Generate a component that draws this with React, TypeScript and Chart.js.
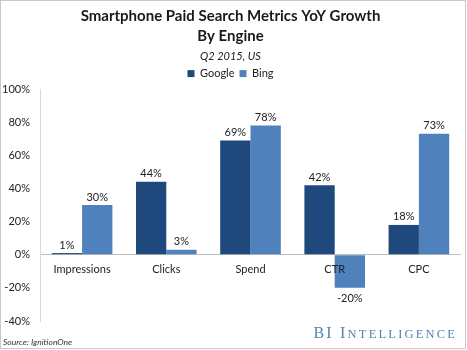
import React, { useEffect, useRef } from "react";
import { Chart, registerables } from "chart.js";

Chart.register(...registerables);

const categories = ["Impressions", "Clicks", "Spend", "CTR", "CPC"];
const googleValues = [1, 44, 69, 42, 18];
const bingValues = [30, 3, 78, -20, 73];
const seriesNames = ["Google", "Bing"];
const seriesColors = ["#1F497D", "#4F81BD"];
const yMin = -40;
const yMax = 100;
const yStep = 20;
const titleLines = ["Smartphone Paid Search Metrics YoY Growth", "By Engine"];
const subtitleText = "Q2 2015, US";
const sourceText = "Source: IgnitionOne";
const brandWords = ["BI", "Intelligence"];

const FONT = "Lato, 'Open Sans', sans-serif";
const SERIF = "'Liberation Serif', 'DejaVu Serif', serif";

const valueLabelPlugin = {
  id: "valueLabels",
  afterDatasetsDraw(chart: any) {
    const ctx = chart.ctx;
    ctx.save();
    ctx.font = `11px ${FONT}`;
    ctx.fillStyle = "#222";
    ctx.textAlign = "center";
    ctx.textBaseline = "middle";
    chart.data.datasets.forEach((ds: any, di: number) => {
      const meta = chart.getDatasetMeta(di);
      meta.data.forEach((el: any, i: number) => {
        const v = ds.data[i];
        const y = v >= 0 ? el.y - 8 : el.y + 11;
        ctx.fillText(v + "%", el.x, y);
      });
    });
    ctx.restore();
  },
};

const framePlugin = {
  id: "frame",
  afterDraw(chart: any) {
    const ctx = chart.ctx;
    const w = chart.width;
    const h = chart.height;
    ctx.save();
    ctx.strokeStyle = "#c9c9c9";
    ctx.lineWidth = 1;
    ctx.strokeRect(0.5, 0.5, w - 2, h - 2);

    ctx.font = `italic 8.5px ${FONT}`;
    ctx.fillStyle = "#333";
    ctx.textAlign = "left";
    ctx.textBaseline = "middle";
    ctx.fillText(sourceText, 3, 342);

    // brand drawn as small caps with letter spacing
    ctx.fillStyle = "#5683b2";
    ctx.textBaseline = "alphabetic";
    const big = `16px ${SERIF}`;
    const small = `12.5px ${SERIF}`;
    const spacing = 2.2;
    const chars: [string, string][] = [];
    brandWords.forEach((word, wi) => {
      const rest = word.slice(1);
      const restIsUpper = rest === rest.toUpperCase();
      chars.push([big, word[0]]);
      rest.split("").forEach((c) => chars.push([restIsUpper ? big : small, c.toUpperCase()]));
      if (wi < brandWords.length - 1) chars.push([big, " "]);
    });
    let total = 0;
    chars.forEach(([f, t], i) => {
      ctx.font = f;
      total += ctx.measureText(t).width + (i < chars.length - 1 ? spacing : 0);
    });
    let x = 455 - total;
    const baseline = 338;
    chars.forEach(([f, t]) => {
      ctx.font = f;
      ctx.fillText(t, x, baseline);
      x += ctx.measureText(t).width + spacing;
    });
    ctx.restore();
  },
};

export default function App() {
  const canvasRef = useRef<HTMLCanvasElement | null>(null);

  useEffect(() => {
    if (!canvasRef.current) return;
    const chart = new Chart(canvasRef.current, {
      type: "bar",
      data: {
        labels: categories,
        datasets: [
          {
            label: seriesNames[0],
            data: googleValues,
            backgroundColor: seriesColors[0],
            borderWidth: 0,
          },
          {
            label: seriesNames[1],
            data: bingValues,
            backgroundColor: seriesColors[1],
            borderWidth: 0,
          },
        ],
      },
      options: {
        animation: false,
        responsive: false,
        maintainAspectRatio: false,
        layout: { padding: { left: 0, right: 6, top: 0, bottom: 29 } },
        datasets: {
          bar: { categoryPercentage: 0.72, barPercentage: 1 },
        },
        plugins: {
          title: {
            display: true,
            text: titleLines,
            color: "#1a1a1a",
            font: { family: FONT, size: 15, weight: "bold", lineHeight: 1.33 },
            padding: { top: 6, bottom: 0 },
          },
          subtitle: {
            display: true,
            text: subtitleText,
            color: "#222",
            font: { family: FONT, size: 11, style: "italic" },
            padding: { top: 4, bottom: 0 },
          },
          legend: {
            display: true,
            labels: {
              boxWidth: 7,
              boxHeight: 7,
              color: "#222",
              padding: 5,
              font: { family: FONT, size: 11 },
            },
          },
          tooltip: { enabled: false },
        },
        scales: {
          x: {
            position: { y: 0 } as any,
            grid: { display: false, drawTicks: false },
            border: { display: false },
            ticks: {
              z: 1,
              color: "#222",
              font: { family: FONT, size: 11 },
              padding: 8,
            },
          },
          y: {
            min: yMin,
            max: yMax,
            afterFit: (scale: any) => {
              scale.width = 40;
            },
            ticks: {
              stepSize: yStep,
              color: "#222",
              font: { family: FONT, size: 11 },
              padding: 10,
              callback: (v: any) => v + "%",
            },
            grid: {
              drawTicks: false,
              color: (c: any) => (c.tick && c.tick.value === 0 ? "#bfbfbf" : "rgba(0,0,0,0)"),
            },
            border: { display: true, color: "#d9d9d9" },
          },
        },
      },
      plugins: [valueLabelPlugin, framePlugin],
    });
    return () => chart.destroy();
  }, []);

  return (
    <div style={{ position: "fixed", left: 0, top: 0, width: 467, height: 350, background: "#fff" }}>
      <canvas ref={canvasRef} width={467} height={350} style={{ display: "block" }} />
    </div>
  );
}
